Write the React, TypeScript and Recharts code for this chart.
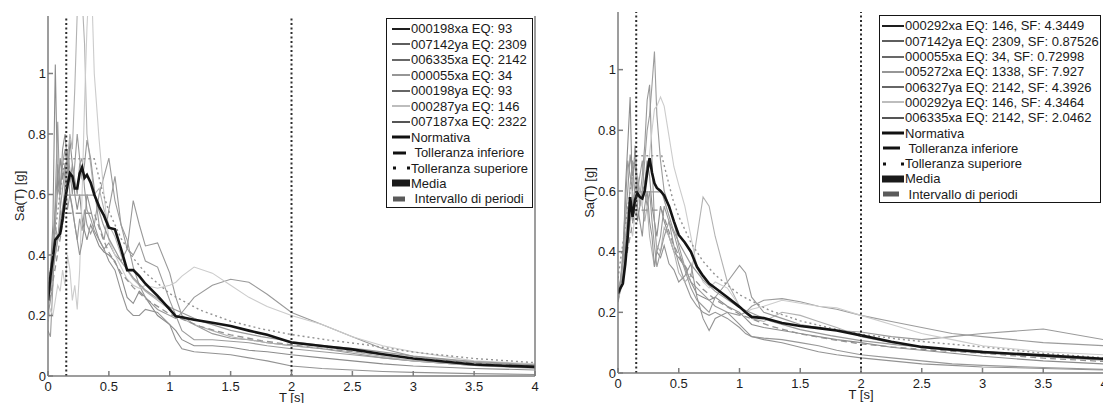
import { Label, Line, LineChart, ReferenceLine, XAxis, YAxis } from 'recharts';

const FONT = '"Liberation Sans", Arial, Helvetica, sans-serif';

// period grid shared by the records and the mean (s)
const T_GRID = [
  0, 0.02, 0.04, 0.06, 0.08, 0.1, 0.12, 0.14, 0.16, 0.18, 0.2, 0.22, 0.24, 0.26, 0.28, 0.3, 0.32, 0.35, 0.38, 0.42,
  0.46, 0.5, 0.55, 0.6, 0.65, 0.7, 0.75, 0.8, 0.9, 1, 1.05, 1.1, 1.2, 1.35, 1.5, 1.65, 1.8, 2, 2.25, 2.5, 2.75, 3, 3.5, 4,
];
const X_TICKS = [0, 0.5, 1, 1.5, 2, 2.5, 3, 3.5, 4];
const Y_TICKS = [0, 0.2, 0.4, 0.6, 0.8, 1];
const PERIOD_BOUNDS = [0.15, 2];

// ---- left panel ----
const L_NAMES = [
  '000198xa EQ: 93',
  '007142ya EQ: 2309',
  '006335xa EQ: 2142',
  '000055xa EQ: 34',
  '000198ya EQ: 93',
  '000287ya EQ: 146',
  '007187xa EQ: 2322',
];
const L_000198XA = [0.2, 0.35, 0.5, 1.03, 0.6, 0.72, 0.65, 0.7, 0.62, 0.78, 0.7, 0.6, 0.55, 0.6, 0.52, 0.48, 0.45, 0.5, 0.47, 0.43, 0.41, 0.4, 0.38, 0.33, 0.26, 0.24, 0.28, 0.26, 0.2, 0.17, 0.15, 0.12, 0.1, 0.1, 0.095, 0.085, 0.08, 0.07, 0.06, 0.05, 0.04, 0.033, 0.025, 0.02];
const L_007142YA = [0.15, 0.13, 0.3, 0.6, 0.84, 0.55, 0.62, 0.68, 0.55, 0.6, 0.56, 0.5, 0.45, 0.52, 0.48, 0.55, 0.5, 0.47, 0.5, 0.6, 0.66, 0.72, 0.58, 0.5, 0.42, 0.4, 0.44, 0.38, 0.36, 0.25, 0.2, 0.15, 0.12, 0.12, 0.115, 0.11, 0.1, 0.09, 0.08, 0.07, 0.06, 0.05, 0.035, 0.028];
const L_006335XA = [0.28, 0.35, 0.42, 0.5, 0.62, 0.6, 0.7, 0.75, 0.68, 0.64, 0.7, 0.65, 0.6, 0.7, 0.72, 0.62, 0.55, 0.52, 0.48, 0.45, 0.42, 0.44, 0.4, 0.38, 0.42, 0.58, 0.5, 0.43, 0.44, 0.34, 0.26, 0.2, 0.17, 0.14, 0.125, 0.12, 0.11, 0.1, 0.09, 0.075, 0.06, 0.05, 0.035, 0.028];
const L_000055XA = [0.22, 0.28, 0.35, 0.4, 0.45, 0.5, 0.55, 0.6, 0.72, 0.8, 0.75, 0.95, 1.2, 1.3, 1.25, 1.1, 0.8, 0.7, 0.6, 0.62, 0.55, 0.5, 0.46, 0.4, 0.35, 0.32, 0.3, 0.28, 0.25, 0.22, 0.2, 0.19, 0.17, 0.15, 0.13, 0.12, 0.11, 0.1, 0.09, 0.08, 0.065, 0.05, 0.035, 0.025];
const L_000198YA = [0.2, 0.25, 0.3, 0.5, 0.45, 0.55, 0.5, 0.65, 0.75, 0.68, 0.6, 0.7, 0.8, 0.72, 0.65, 0.7, 0.78, 0.72, 0.62, 0.5, 0.45, 0.55, 0.66, 0.5, 0.45, 0.36, 0.3, 0.26, 0.22, 0.2, 0.19, 0.21, 0.26, 0.3, 0.32, 0.31, 0.27, 0.21, 0.17, 0.13, 0.09, 0.065, 0.045, 0.035];
const L_000287YA = [0.18, 0.22, 0.2, 0.25, 0.3, 0.28, 0.35, 0.3, 0.4, 0.35, 0.25, 0.3, 0.22, 0.35, 0.6, 0.9, 1.15, 1.4, 1.0, 0.78, 0.6, 0.45, 0.4, 0.36, 0.32, 0.3, 0.29, 0.3, 0.29, 0.3, 0.31, 0.33, 0.36, 0.34, 0.3, 0.26, 0.23, 0.2, 0.17, 0.13, 0.1, 0.08, 0.05, 0.04];
const L_007187XA = [0.25, 0.3, 0.45, 0.55, 0.7, 0.62, 0.75, 0.8, 0.7, 0.6, 0.55, 0.5, 0.45, 0.4, 0.44, 0.5, 0.6, 0.55, 0.5, 0.45, 0.42, 0.38, 0.35, 0.28, 0.22, 0.2, 0.2, 0.22, 0.21, 0.17, 0.12, 0.09, 0.08, 0.075, 0.07, 0.06, 0.05, 0.033, 0.025, 0.02, 0.015, 0.012, 0.008, 0.005];
const L_MEAN = [0.25, 0.33, 0.39, 0.45, 0.46, 0.47, 0.52, 0.58, 0.63, 0.67, 0.66, 0.62, 0.62, 0.67, 0.69, 0.655, 0.665, 0.64, 0.6, 0.56, 0.53, 0.49, 0.485, 0.42, 0.35, 0.35, 0.33, 0.305, 0.265, 0.22, 0.197, 0.194, 0.186, 0.176, 0.165, 0.15, 0.136, 0.111, 0.099, 0.088, 0.072, 0.058, 0.038, 0.03];

const L_CODE_T = [0, 0.135, 0.38, 0.45, 0.5, 0.6, 0.7, 0.8, 1, 1.25, 1.5, 1.75, 2, 2.3, 2.6, 3, 3.5, 4];
const L_CODE = [0.24, 0.598, 0.598, 0.505, 0.454, 0.379, 0.325, 0.284, 0.227, 0.182, 0.151, 0.13, 0.114, 0.099, 0.087, 0.066, 0.048, 0.037];
const L_CODE_LOW = [0.216, 0.538, 0.538, 0.455, 0.409, 0.341, 0.293, 0.256, 0.204, 0.164, 0.136, 0.117, 0.103, 0.089, 0.078, 0.059, 0.043, 0.033];
const L_CODE_UP = [0.288, 0.718, 0.718, 0.606, 0.545, 0.455, 0.39, 0.341, 0.272, 0.218, 0.181, 0.156, 0.137, 0.119, 0.104, 0.079, 0.058, 0.044];

// ---- right panel ----
const R_NAMES = [
  '000292xa EQ: 146, SF: 4.3449',
  '007142ya EQ: 2309, SF: 0.87526',
  '000055xa EQ: 34, SF: 0.72998',
  '005272xa EQ: 1338, SF: 7.927',
  '006327ya EQ: 2142, SF: 4.3926',
  '000292ya EQ: 146, SF: 4.3464',
  '006335xa EQ: 2142, SF: 2.0462',
];
const R_000292XA = [0.25, 0.28, 0.35, 0.6, 0.75, 0.91, 0.55, 0.6, 0.5, 0.55, 0.6, 0.62, 0.7, 0.65, 0.55, 0.5, 0.45, 0.55, 0.5, 0.45, 0.4, 0.38, 0.35, 0.3, 0.26, 0.25, 0.24, 0.25, 0.22, 0.2, 0.18, 0.16, 0.15, 0.14, 0.13, 0.12, 0.11, 0.1, 0.085, 0.075, 0.065, 0.055, 0.04, 0.03];
const R_007142YA = [0.27, 0.3, 0.33, 0.45, 0.5, 0.55, 0.5, 0.6, 0.65, 0.55, 0.6, 0.7, 0.8, 0.85, 0.95, 1.06, 0.85, 0.7, 0.6, 0.55, 0.5, 0.42, 0.35, 0.3, 0.28, 0.26, 0.24, 0.22, 0.2, 0.19, 0.2, 0.22, 0.24, 0.245, 0.235, 0.22, 0.21, 0.19, 0.17, 0.15, 0.13, 0.12, 0.1, 0.09];
const R_000055XA = [0.26, 0.3, 0.4, 0.55, 0.7, 0.65, 0.6, 0.75, 0.62, 0.58, 0.65, 0.75, 0.9, 0.95, 0.7, 0.5, 0.4, 0.45, 0.55, 0.5, 0.42, 0.36, 0.3, 0.25, 0.22, 0.2, 0.19, 0.2, 0.18, 0.15, 0.13, 0.12, 0.115, 0.11, 0.1, 0.09, 0.075, 0.06, 0.05, 0.04, 0.03, 0.025, 0.018, 0.012];
const R_005272XA = [0.25, 0.28, 0.32, 0.4, 0.55, 0.5, 0.6, 0.55, 0.65, 0.6, 0.55, 0.5, 0.55, 0.45, 0.4, 0.35, 0.42, 0.4, 0.48, 0.45, 0.4, 0.33, 0.3, 0.32, 0.45, 0.58, 0.55, 0.45, 0.3, 0.22, 0.2, 0.18, 0.17, 0.2, 0.19, 0.17, 0.15, 0.12, 0.1, 0.085, 0.075, 0.065, 0.055, 0.045];
const R_006327YA = [0.24, 0.27, 0.3, 0.42, 0.5, 0.62, 0.7, 0.58, 0.6, 0.65, 0.7, 0.6, 0.55, 0.6, 0.5, 0.42, 0.35, 0.4, 0.45, 0.5, 0.46, 0.4, 0.34, 0.28, 0.24, 0.22, 0.2, 0.25, 0.3, 0.355, 0.33, 0.25, 0.2, 0.18, 0.16, 0.15, 0.14, 0.135, 0.12, 0.11, 0.12, 0.13, 0.145, 0.11];
const R_000292YA = [0.28, 0.3, 0.35, 0.4, 0.42, 0.5, 0.45, 0.52, 0.55, 0.6, 0.55, 0.62, 0.65, 0.72, 0.8, 0.87, 0.88, 0.91, 0.88, 0.78, 0.68, 0.62, 0.55, 0.45, 0.35, 0.3, 0.28, 0.3, 0.28, 0.22, 0.2, 0.21, 0.22, 0.24, 0.23, 0.22, 0.215, 0.19, 0.16, 0.13, 0.11, 0.09, 0.07, 0.06];
const R_006335XA = [0.26, 0.3, 0.38, 0.5, 0.6, 0.72, 0.65, 0.7, 0.55, 0.5, 0.45, 0.55, 0.6, 0.5, 0.45, 0.35, 0.4, 0.38, 0.42, 0.36, 0.34, 0.3, 0.32, 0.36, 0.25, 0.18, 0.14, 0.18, 0.2, 0.16, 0.14, 0.12, 0.11, 0.1, 0.085, 0.07, 0.06, 0.05, 0.04, 0.03, 0.025, 0.02, 0.015, 0.01];
const R_MEAN = [0.262, 0.28, 0.295, 0.36, 0.45, 0.58, 0.515, 0.57, 0.592, 0.58, 0.575, 0.6, 0.66, 0.708, 0.66, 0.625, 0.61, 0.6, 0.585, 0.55, 0.5, 0.455, 0.43, 0.4, 0.35, 0.32, 0.295, 0.28, 0.25, 0.218, 0.2, 0.185, 0.181, 0.165, 0.155, 0.148, 0.14, 0.124, 0.103, 0.086, 0.077, 0.069, 0.058, 0.047];

const R_CODE_T = [0, 0.14, 0.36, 0.45, 0.5, 0.6, 0.7, 0.8, 1, 1.25, 1.5, 1.75, 2, 2.3, 2.6, 3, 3.5, 4];
const R_CODE = [0.26, 0.597, 0.597, 0.478, 0.43, 0.358, 0.307, 0.269, 0.215, 0.172, 0.143, 0.123, 0.107, 0.093, 0.083, 0.072, 0.054, 0.042];
const R_CODE_LOW = [0.234, 0.537, 0.537, 0.43, 0.387, 0.322, 0.276, 0.242, 0.194, 0.155, 0.129, 0.111, 0.096, 0.084, 0.075, 0.065, 0.049, 0.038];
const R_CODE_UP = [0.312, 0.716, 0.716, 0.574, 0.516, 0.43, 0.368, 0.323, 0.258, 0.206, 0.172, 0.148, 0.128, 0.112, 0.1, 0.086, 0.065, 0.05];

// legend swatch colours and the lighter tones the thin lines show in the plot
const LEGEND_GRAYS = ['#1e1e1e', '#5e5e5e', '#686868', '#969696', '#666666', '#bdbdbd', '#555555'];
const PLOT_GRAYS = ['#8c8c8c', '#9c9c9c', '#989898', '#b2b2b2', '#9a9a9a', '#cccccc', '#939393'];

const toRows = (ts: number[], vs: number[]) => ts.map((t, i) => ({ t, sa: vs[i] }));

type PanelProps = {
  left: number;
  width: number;
  marginTop: number;
  xAxisHeight: number;
  yAxisWidth: number;
  rightWidth: number;
  records: number[][];
  mean: number[];
  codeT: number[];
  code: number[];
  codeLow: number[];
  codeUp: number[];
};

function SpectrumPanel(p: PanelProps) {
  const axisColor = '#7d7d7d';
  const tick = { fontSize: 13, fill: '#1c1c1c', fontFamily: FONT };
  return (
    <div style={{ position: 'absolute', left: p.left, top: 0 }}>
      <LineChart width={p.width} height={403} margin={{ top: p.marginTop, right: 0, bottom: 0, left: 0 }}>
        <XAxis
          xAxisId="b"
          dataKey="t"
          type="number"
          domain={[0, 4]}
          ticks={X_TICKS}
          interval={0}
          allowDataOverflow
          height={p.xAxisHeight}
          stroke={axisColor}
          strokeWidth={1.5}
          tickSize={-5}
          tickMargin={11}
          tick={tick}
          tickFormatter={(v: number) => String(v)}
        >
          <Label
            content={(lp: any) => {
              const vb = lp.viewBox || {};
              return (
                <text x={vb.x + vb.width / 2} y={vb.y + 25.5} textAnchor="middle" fontSize={13} fill="#1c1c1c" fontFamily={FONT}>
                  T [s]
                </text>
              );
            }}
          />
        </XAxis>
        <XAxis
          xAxisId="top"
          orientation="top"
          dataKey="t"
          type="number"
          domain={[0, 4]}
          ticks={X_TICKS}
          interval={0}
          height={0}
          stroke={axisColor}
          strokeWidth={1.5}
          tickSize={-5}
          tick={false}
        />
        <YAxis
          yAxisId="l"
          type="number"
          domain={[0, 1.19]}
          ticks={Y_TICKS}
          interval={0}
          allowDataOverflow
          width={p.yAxisWidth}
          stroke={axisColor}
          strokeWidth={1.5}
          tickSize={-5}
          tickMargin={7}
          tick={tick}
          tickFormatter={(v: number) => String(v)}
        >
          <Label
            content={(lp: any) => {
              const vb = lp.viewBox || {};
              const cx = vb.x + vb.width - 29;
              const cy = vb.y + vb.height / 2;
              return (
                <text
                  x={cx}
                  y={cy}
                  transform={`rotate(-90, ${cx}, ${cy})`}
                  textAnchor="middle"
                  dominantBaseline="central"
                  fontSize={13}
                  fill="#1c1c1c"
                  fontFamily={FONT}
                >
                  Sa(T) [g]
                </text>
              );
            }}
          />
        </YAxis>
        <YAxis
          yAxisId="r"
          orientation="right"
          type="number"
          domain={[0, 1.19]}
          ticks={Y_TICKS}
          interval={0}
          width={p.rightWidth}
          stroke={axisColor}
          strokeWidth={1.5}
          tickSize={-5}
          tick={false}
        />

        {p.records.map((vals, i) => (
          <Line
            key={i}
            xAxisId="b"
            yAxisId="l"
            data={toRows(T_GRID, vals)}
            dataKey="sa"
            type="linear"
            stroke={PLOT_GRAYS[i]}
            strokeWidth={1.1}
            dot={false}
            activeDot={false}
            isAnimationActive={false}
          />
        ))}
        <Line
          xAxisId="b"
          yAxisId="l"
          data={toRows(p.codeT, p.code)}
          dataKey="sa"
          type="linear"
          stroke="#9a9a9a"
          strokeWidth={1.2}
          dot={false}
          activeDot={false}
          isAnimationActive={false}
        />
        <Line
          xAxisId="b"
          yAxisId="l"
          data={toRows(p.codeT, p.codeLow)}
          dataKey="sa"
          type="linear"
          stroke="#939393"
          strokeWidth={1.3}
          strokeDasharray="6 4"
          dot={false}
          activeDot={false}
          isAnimationActive={false}
        />
        <Line
          xAxisId="b"
          yAxisId="l"
          data={toRows(p.codeT, p.codeUp)}
          dataKey="sa"
          type="linear"
          stroke="#939393"
          strokeWidth={1.4}
          strokeDasharray="2 3"
          dot={false}
          activeDot={false}
          isAnimationActive={false}
        />
        <Line
          xAxisId="b"
          yAxisId="l"
          data={toRows(T_GRID, p.mean)}
          dataKey="sa"
          type="linear"
          stroke="#141414"
          strokeWidth={2.6}
          dot={false}
          activeDot={false}
          isAnimationActive={false}
        />
        {PERIOD_BOUNDS.map((t) => (
          <ReferenceLine key={t} xAxisId="b" yAxisId="l" x={t} stroke="#2e2e2e" strokeWidth={2} strokeDasharray="2 2.5" />
        ))}
      </LineChart>
    </div>
  );
}

type LegendProps = {
  left: number;
  top: number;
  width: number;
  height: number;
  rowH: number;
  firstRow: number;
  padLeft: number;
  swatchW: number;
  names: string[];
};

function LegendBox(l: LegendProps) {
  const items: { label: string; kind: string; color: string }[] = [
    ...l.names.map((n, i) => ({ label: n, kind: 'line', color: LEGEND_GRAYS[i] })),
    { label: 'Normativa', kind: 'thick', color: '#111' },
    { label: ' Tolleranza inferiore', kind: 'dash', color: '#111' },
    { label: 'Tolleranza superiore', kind: 'dots', color: '#111' },
    { label: 'Media', kind: 'media', color: '#1a1a1a' },
    { label: ' Intervallo di periodi', kind: 'interval', color: '#5a5a5a' },
  ];
  const w = l.swatchW;
  const swatch = (kind: string, color: string) => {
    if (kind === 'line') return <line x1={0} y1={5} x2={w} y2={5} stroke={color} strokeWidth={2} />;
    if (kind === 'thick') return <line x1={0} y1={5} x2={w} y2={5} stroke={color} strokeWidth={3} />;
    if (kind === 'dash') return <line x1={1} y1={5} x2={w - 4} y2={5} stroke={color} strokeWidth={3} />;
    if (kind === 'dots')
      return (
        <g fill={color}>
          <rect x={1} y={3.5} width={3} height={3} />
          <rect x={w - 3} y={3.5} width={3} height={3} />
        </g>
      );
    if (kind === 'media') return <rect x={0} y={1.5} width={w} height={7} fill={color} />;
    return <rect x={1} y={2.5} width={w - 6} height={5} fill={color} />;
  };
  return (
    <div
      style={{
        position: 'absolute',
        left: l.left,
        top: l.top,
        width: l.width,
        height: l.height,
        boxSizing: 'border-box',
        border: '1.6px solid #151515',
        background: '#fff',
        fontFamily: FONT,
        fontSize: 13,
        color: '#1a1a1a',
        overflow: 'hidden',
      }}
    >
      {items.map((it, i) => (
        <div
          key={i}
          style={{
            position: 'absolute',
            left: l.padLeft,
            top: l.firstRow - l.rowH / 2 + i * l.rowH,
            height: l.rowH,
            display: 'flex',
            alignItems: 'center',
            whiteSpace: 'pre',
          }}
        >
          <svg width={w} height={10} style={{ flex: 'none', marginRight: 1 }}>
            {swatch(it.kind, it.color)}
          </svg>
          <span>{it.label}</span>
        </div>
      ))}
    </div>
  );
}

export default function App() {
  return (
    <div style={{ position: 'fixed', left: 0, top: 0, width: 1103, height: 403, overflow: 'hidden', background: '#fff' }}>
      <SpectrumPanel
        left={0}
        width={550}
        marginTop={16}
        xAxisHeight={27}
        yAxisWidth={48}
        rightWidth={15}
        records={[L_000198XA, L_007142YA, L_006335XA, L_000055XA, L_000198YA, L_000287YA, L_007187XA]}
        mean={L_MEAN}
        codeT={L_CODE_T}
        code={L_CODE}
        codeLow={L_CODE_LOW}
        codeUp={L_CODE_UP}
      />
      <SpectrumPanel
        left={550}
        width={570}
        marginTop={12}
        xAxisHeight={30}
        yAxisWidth={68}
        rightWidth={16}
        records={[R_000292XA, R_007142YA, R_000055XA, R_005272XA, R_006327YA, R_000292YA, R_006335XA]}
        mean={R_MEAN}
        codeT={R_CODE_T}
        code={R_CODE}
        codeLow={R_CODE_LOW}
        codeUp={R_CODE_UP}
      />
      <LegendBox left={386} top={18} width={147} height={190} rowH={15.45} firstRow={10} padLeft={5} swatchW={18} names={L_NAMES} />
      <LegendBox left={879} top={15} width={222} height={188} rowH={15.3} firstRow={10} padLeft={2} swatchW={22} names={R_NAMES} />
    </div>
  );
}
